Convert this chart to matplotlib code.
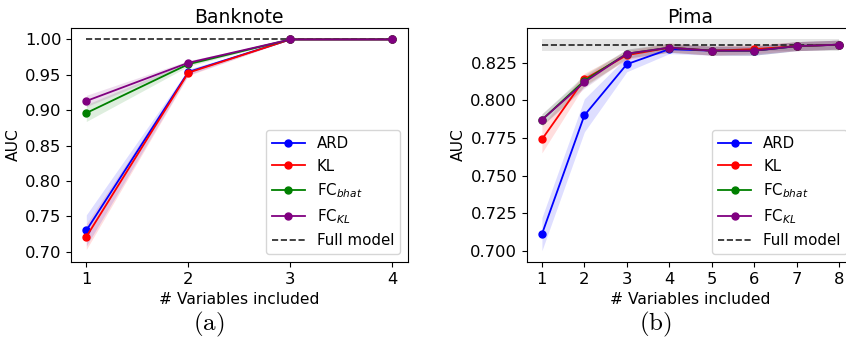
import numpy as np
import matplotlib
matplotlib.use("Agg")
import matplotlib.pyplot as plt

plt.rcParams["mathtext.fontset"] = "dejavusans"

# Banknote data
bank_x = [1, 2, 3, 4]
bank_ard = [0.730, 0.954, 1.000, 1.000]
bank_ard_sd = [0.022, 0.004, 0.000, 0.000]
bank_kl = [0.721, 0.953, 1.000, 1.000]
bank_kl_sd = [0.018, 0.004, 0.000, 0.000]
bank_fcb = [0.896, 0.965, 1.000, 1.000]
bank_fcb_sd = [0.012, 0.003, 0.000, 0.000]
bank_fckl = [0.913, 0.967, 1.000, 1.000]
bank_fckl_sd = [0.008, 0.003, 0.000, 0.000]
bank_full = 1.000
bank_full_sd = 0.000

# Pima data
pima_x = [1, 2, 3, 4, 5, 6, 7, 8]
pima_ard = [0.711, 0.790, 0.824, 0.834, 0.833, 0.833, 0.836, 0.837]
pima_ard_sd = [0.011, 0.011, 0.005, 0.003, 0.003, 0.003, 0.003, 0.003]
pima_kl = [0.774, 0.814, 0.830, 0.835, 0.833, 0.834, 0.836, 0.837]
pima_kl_sd = [0.009, 0.004, 0.003, 0.003, 0.003, 0.003, 0.003, 0.003]
pima_fcb = [0.787, 0.813, 0.831, 0.835, 0.833, 0.833, 0.836, 0.837]
pima_fcb_sd = [0.004, 0.004, 0.003, 0.003, 0.003, 0.003, 0.003, 0.003]
pima_fckl = [0.787, 0.812, 0.831, 0.835, 0.833, 0.833, 0.836, 0.837]
pima_fckl_sd = [0.004, 0.004, 0.003, 0.003, 0.003, 0.003, 0.003, 0.003]
pima_full = 0.8368
pima_full_sd = 0.0042

labels = ["ARD", "KL", r"FC$_{bhat}$", r"FC$_{KL}$"]
colors = ["blue", "red", "green", "purple"]

fig = plt.figure(figsize=(8.46, 3.37), dpi=100)
ax1 = fig.add_axes([0.0839, 0.2226, 0.398, 0.694])
ax2 = fig.add_axes([0.623, 0.2226, 0.3865, 0.694])


def draw(ax, x, series, sds, full, full_sd, title, ylim, yticks, fmt):
    x = np.asarray(x)
    for y, sd, lab, c in zip(series, sds, labels, colors):
        y = np.asarray(y)
        sd = np.asarray(sd)
        ax.fill_between(x, y - sd, y + sd, color=c, alpha=0.13, lw=0)
        ax.plot(x, y, "-o", color=c, label=lab, ms=5, lw=1.3)
    ax.fill_between([x[0], x[-1]], full - full_sd, full + full_sd,
                    color="grey", alpha=0.2, lw=0, zorder=0.5)
    ax.plot([x[0], x[-1]], [full, full], "--", color="#222222", lw=1.2,
            label="Full model", zorder=1.5)
    ax.set_title(title, fontsize=13.5, pad=4)
    ax.set_xlabel("# Variables included", fontsize=11.2)
    ax.set_ylabel("AUC", fontsize=11.2, labelpad=3)
    ax.set_xticks(x)
    ax.set_ylim(*ylim)
    ax.set_yticks(yticks)
    ax.set_yticklabels([fmt.format(v) for v in yticks])
    ax.tick_params(labelsize=11.8)
    ax.legend(loc="lower right", fontsize=10.8, handlelength=2.2)


draw(ax1, bank_x, [bank_ard, bank_kl, bank_fcb, bank_fckl],
     [bank_ard_sd, bank_kl_sd, bank_fcb_sd, bank_fckl_sd],
     bank_full, bank_full_sd, "Banknote", (0.6855, 1.016),
     [0.70, 0.75, 0.80, 0.85, 0.90, 0.95, 1.00], "{:.2f}")
draw(ax2, pima_x, [pima_ard, pima_kl, pima_fcb, pima_fckl],
     [pima_ard_sd, pima_kl_sd, pima_fcb_sd, pima_fckl_sd],
     pima_full, pima_full_sd, "Pima", (0.6925, 0.848),
     [0.700, 0.725, 0.750, 0.775, 0.800, 0.825], "{:.3f}")

fig.text(209 / 846, 1 - 324 / 337, r"$\mathrm{(a)}$", fontsize=18,
         math_fontfamily="cm", ha="center", va="center")
fig.text(655 / 846, 1 - 324 / 337, r"$\mathrm{(b)}$", fontsize=18,
         math_fontfamily="cm", ha="center", va="center")

fig.savefig("out.png", dpi=100)
